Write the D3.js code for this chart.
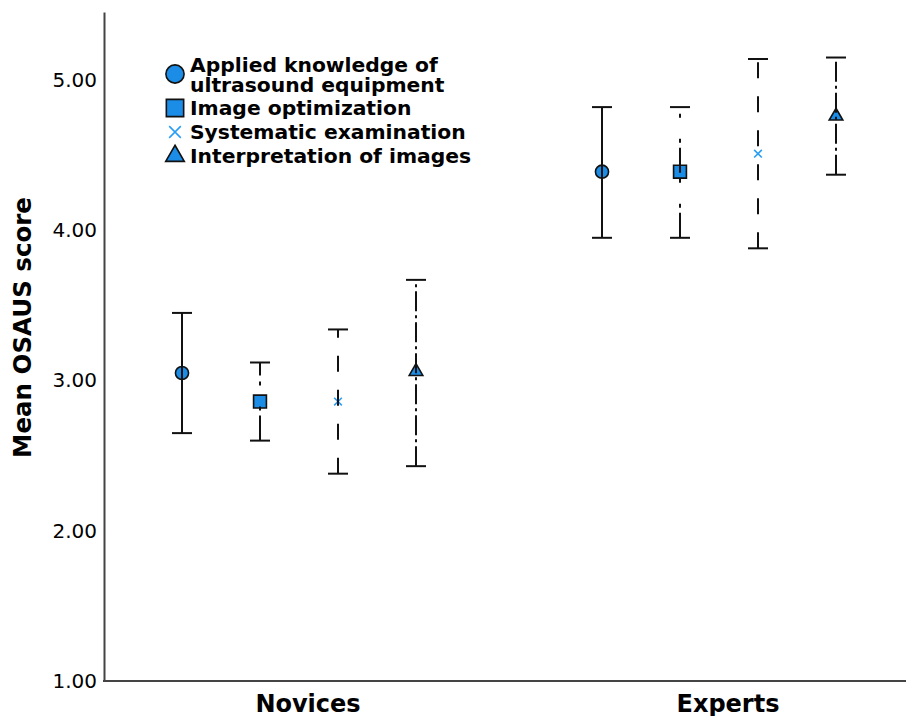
<!DOCTYPE html>
<html>
<head>
<meta charset="utf-8">
<script src="https://cdn.jsdelivr.net/npm/d3@7"></script>
<style>
  body { margin: 0; background: #fff; }
  text { font-family: "DejaVu Sans", sans-serif; fill: #000; }
</style>
</head>
<body>
<svg width="906" height="716"></svg>
<script>
// data
const groups = ['Novices', 'Experts'];
const skills = ['Applied knowledge of ultrasound equipment', 'Image optimization',
  'Systematic examination', 'Interpretation of images'];
const legendLines = [['Applied knowledge of', 'ultrasound equipment'], ['Image optimization'],
  ['Systematic examination'], ['Interpretation of images']];
const noviceMean = [3.05, 2.86, 2.86, 3.06];
const noviceLow = [2.65, 2.60, 2.38, 2.43];
const noviceHigh = [3.45, 3.12, 3.34, 3.67];
const expertMean = [4.39, 4.39, 4.51, 4.76];
const expertLow = [3.95, 3.95, 3.88, 4.37];
const expertHigh = [4.82, 4.82, 5.14, 5.15];
const yTicks = [1, 2, 3, 4, 5];

let plotLeft = 104, plotTop = 12, plotBottom = 681, plotRight = 906;

let rows = [];
groups.forEach((g, gi) => {
  let m = gi === 0 ? noviceMean : expertMean;
  let lo = gi === 0 ? noviceLow : expertLow;
  let hi = gi === 0 ? noviceHigh : expertHigh;
  skills.forEach((s, si) => rows.push({group: g, skill: s, i: si, mean: m[si], low: lo[si], high: hi[si]}));
});

let svg = d3.select('svg');

const xScale = d3.scaleBand().domain(groups).range([98, 938]);
const xInner = d3.scalePoint().domain(skills).range([84, 318]);
const yScale = d3.scaleLinear().domain([1, 5.453]).range([plotBottom, plotTop]);

// marker styles per skill
const symbols = [d3.symbolCircle, d3.symbolSquare, d3.symbolX, d3.symbolTriangle];
const sizes = [135, 165, 40, 80];
const dashes = [null, '25,5,4,21,4,6', '16,18', '20,4,3,4'];
const blue = '#1b8de6';

function styleMarker(sel, si) {
  if (si === 2) {
    sel.attr('fill', 'none').attr('stroke', '#2a9df4').attr('stroke-width', 1.6);
  } else {
    sel.attr('fill', blue).attr('stroke', '#111').attr('stroke-width', 1.6);
  }
}

// y axis
let yAxis = svg.append('g')
  .attr('transform', `translate(${plotLeft},0)`)
  .call(d3.axisLeft(yScale).tickValues(yTicks).tickFormat(d3.format('.2f')).tickSize(0).tickPadding(7));
yAxis.select('.domain').attr('stroke', '#444').attr('stroke-width', 2);
yAxis.selectAll('text').attr('font-size', 20).attr('font-family', 'DejaVu Sans').attr('fill', '#111');

// x axis
let xAxis = svg.append('g')
  .attr('transform', `translate(0,${plotBottom})`)
  .call(d3.axisBottom(xScale).tickSize(0).tickPadding(14));
xAxis.select('.domain').remove();
xAxis.selectAll('text').attr('font-size', 24).attr('font-weight', 'bold').attr('font-family', 'DejaVu Sans').attr('fill', '#000');
svg.append('line')
  .attr('x1', plotLeft - 1).attr('x2', plotRight)
  .attr('y1', plotBottom).attr('y2', plotBottom)
  .attr('stroke', '#444').attr('stroke-width', 2);

// markers
let pts = svg.append('g').selectAll('g')
  .data(rows).enter().append('g')
  .attr('transform', d => `translate(${xScale(d.group) + xInner(d.skill)},${yScale(d.mean)})`);
pts.append('path')
  .attr('d', d => d3.symbol().type(symbols[d.i]).size(sizes[d.i])())
  .each(function(d) { styleMarker(d3.select(this), d.i); });

// error bars, drawn over the markers
let bars = svg.append('g').selectAll('g')
  .data(rows).enter().append('g')
  .attr('stroke', '#111').attr('stroke-width', 2);
bars.append('line')
  .attr('x1', d => xScale(d.group) + xInner(d.skill))
  .attr('x2', d => xScale(d.group) + xInner(d.skill))
  .attr('y1', d => yScale(d.low))
  .attr('y2', d => yScale(d.high))
  .attr('stroke-dasharray', d => dashes[d.i]);
['low', 'high'].forEach(k => {
  bars.append('line')
    .attr('x1', d => xScale(d.group) + xInner(d.skill) - 10)
    .attr('x2', d => xScale(d.group) + xInner(d.skill) + 10)
    .attr('y1', d => yScale(d[k]))
    .attr('y2', d => yScale(d[k]));
});

// legend
const legendY = [74, 108, 132, 156];
const legendSizes = [260, 300, 90, 150];
let legend = svg.append('g').selectAll('g')
  .data(skills).enter().append('g')
  .attr('transform', (d, i) => `translate(175,${legendY[i]})`);
legend.append('path')
  .attr('d', (d, i) => d3.symbol().type(symbols[i]).size(legendSizes[i])())
  .each(function(d, i) { styleMarker(d3.select(this), i); });
legend.append('text')
  .attr('x', 15)
  .attr('y', (d, i) => legendLines[i].length > 1 ? -2 : 7)
  .attr('font-size', 20.3)
  .attr('font-weight', 'bold')
  .selectAll('tspan')
  .data((d, i) => legendLines[i]).enter().append('tspan')
  .attr('x', 15)
  .attr('dy', (d, j) => j === 0 ? 0 : 20)
  .text(d => d);

// y axis title
svg.append('text')
  .attr('transform', `translate(31,${(plotTop + plotBottom) / 2 - 19}) rotate(-90)`)
  .attr('text-anchor', 'middle')
  .attr('font-size', 24.5)
  .attr('font-weight', 'bold')
  .text('Mean OSAUS score');
</script>
</body>
</html>
